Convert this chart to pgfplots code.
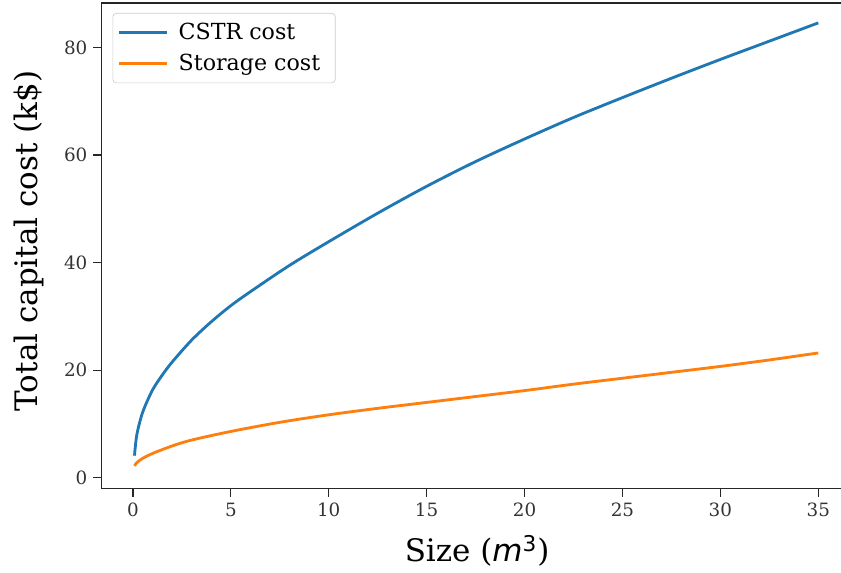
\documentclass[border=0pt]{standalone}
\usepackage{fontspec}
\setmainfont{DejaVu Serif}
\newfontfamily\dvsans{DejaVu Sans}
\usepackage{pgfplots}
\pgfplotsset{compat=1.18}
\definecolor{tabblue}{HTML}{1F77B4}
\definecolor{taborange}{HTML}{FF7F0E}

\begin{document}
\begin{tikzpicture}
\begin{axis}[
    width=450.9pt, height=291.6pt, scale only axis,
    xmin=-1.6, xmax=36.75, ymin=-2.04, ymax=88.3,
    xtick={0,5,...,35}, ytick={0,20,...,80},
    tick align=outside, tick pos=left,
    major tick length=5pt,
    axis line style={line width=0.8pt, black!85},
    every tick/.style={black!85, line width=0.8pt},
    /pgf/number format/assume math mode=true,
    tick label style={font=\fontsize{11}{13}\selectfont, black!80},
    xlabel={Size ({\dvsans\itshape m}\textsuperscript{\dvsans 3})},
    ylabel={Total capital cost (k\$)},
    every axis x label/.style={at={(axis description cs:0.5,-0.128)}, anchor=center,
        font=\fontsize{18.6}{22}\selectfont},
    every axis y label/.style={at={(axis description cs:-0.0967,0.51)}, rotate=90, anchor=center,
        font=\fontsize{18.6}{22}\selectfont},
    legend style={at={(axis description cs:0,1)}, anchor=north west,
        xshift=6.6pt, yshift=-6pt, draw=black!20, rounded corners=2pt,
        font=\fontsize{13.3}{15}\selectfont, row sep=3pt,
        inner xsep=3pt, inner ysep=4pt,
        nodes={inner xsep=6pt}},
    legend cell align=left,
    legend image code/.code={\draw[#1] (0pt,0pt) -- (28.8pt,0pt);},
]
% CSTR cost
\addplot[tabblue, line width=1.7pt, smooth] coordinates {
    (0.08,4.1) (0.2,8.0) (0.5,12.2) (1,16.3) (1.5,19.1) (2,21.5) (3,25.6)
    (4,29.0) (5,32.0) (6,34.6) (8,39.5) (10,43.9) (12.5,49.2) (15,54.2)
    (17.5,58.8) (20,63.0) (22.5,67.0) (25,70.7) (27.5,74.3) (30,77.8)
    (32.5,81.2) (35,84.6)
};
\addlegendentry{CSTR cost}
% Storage cost
\addplot[taborange, line width=1.7pt, smooth] coordinates {
    (0.08,2.2) (0.2,2.8) (0.5,3.6) (1,4.5) (2,5.9) (3,7.0) (5,8.6)
    (7.5,10.3) (10,11.7) (12.5,12.9) (15,14.0) (17.5,15.1) (20,16.2)
    (22.5,17.4) (25,18.5) (27.5,19.6) (30,20.7) (32.5,21.9) (35,23.2)
};
\addlegendentry{Storage cost}
\coordinate (bl) at (rel axis cs:0,0);
\coordinate (tr) at (axis cs:36.16,88.3);
\end{axis}
\pgfresetboundingbox
\path[use as bounding box] ([xshift=-61pt,yshift=-50.4pt]bl) rectangle ([yshift=1.8pt]tr);
\end{tikzpicture}
\end{document}
